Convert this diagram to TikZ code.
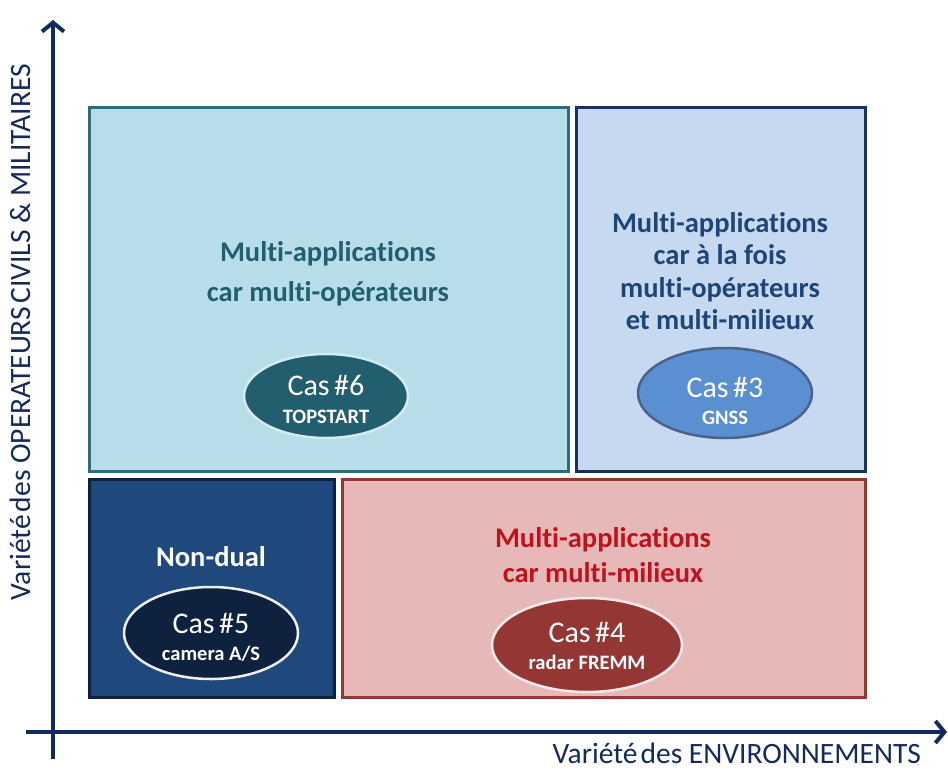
\documentclass[tikz,border=0pt]{standalone}
\usepackage{fontspec}
\setmainfont{Carlito}[Ligatures=NoCommon]
\usetikzlibrary{arrows.meta,shapes.geometric}
\definecolor{axecol}{HTML}{14295C}
\definecolor{tlfill}{HTML}{B7DDE8}
\definecolor{tlline}{HTML}{2F6B79}
\definecolor{tltext}{HTML}{225E6D}
\definecolor{trfill}{HTML}{C6D9F1}
\definecolor{trline}{HTML}{17305E}
\definecolor{trtext}{HTML}{1F4576}
\definecolor{trcas}{HTML}{5A8FD2}
\definecolor{blfill}{HTML}{1F487C}
\definecolor{blline}{HTML}{0E223F}
\definecolor{brfill}{HTML}{E6B9B8}
\definecolor{brline}{HTML}{943634}
\definecolor{brtext}{HTML}{C0121C}
\begin{document}
\begin{tikzpicture}[x=1pt,y=-1pt,
	zone/.style={line width=3pt},
	ovale/.style={ellipse,line width=2.5pt,inner sep=0pt},
	titre/.style={font=\fontsize{28.5}{36}\selectfont\bfseries,align=center},
	cas/.style={font=\fontsize{30}{30}\selectfont,text=white,anchor=base},
	sous/.style={font=\fontsize{20.5}{22}\selectfont\bfseries,text=white,anchor=base},
	axe/.style={draw=axecol,line width=4pt,-{Straight Barb[length=9pt,width=22pt]}},
	legende/.style={font=\fontsize{29.5}{32}\selectfont,text=axecol,inner sep=0pt}]
	\useasboundingbox (0,0) rectangle (948,769);
	\fill[white] (0,0) rectangle (948,769);
	% les quatre zones
	\draw[zone,fill=tlfill,draw=tlline] (89,107) rectangle (568,471);
	\draw[zone,fill=trfill,draw=trline] (576,107) rectangle (865,471);
	\draw[zone,fill=blfill,draw=blline] (89,479) rectangle (334,697);
	\draw[zone,fill=brfill,draw=brline] (342,479) rectangle (865,697);
	% titres
	\node[titre,text=tltext,font=\fontsize{28.5}{40}\selectfont\bfseries] (titre6) at (328,274) {Multi-applications\\car multi-opérateurs};
	\node[titre,text=trtext,font=\fontsize{28.5}{32.5}\selectfont\bfseries] (titre3) at (720,271) {Multi-applications\\car à la fois\\multi-opérateurs\\et multi-milieux};
	\node[titre,text=white] (titre5) at (211,557) {Non-dual};
	\node[titre,text=brtext,font=\fontsize{28.5}{35}\selectfont\bfseries] (titre4) at (603,555) {Multi-applications\\car multi-milieux};
	% les cas
	\node[ovale,fill=tltext,draw=tlfill!60!white,minimum width=164pt,minimum height=84pt] (cas6) at (326,396) {};
	\node[cas] (cas6a) at (326,395) {Cas\hspace{0.15em}\#6};
	\node[sous] (cas6b) at (326,423) {TOPSTART};
	\node[ovale,fill=trcas,draw=trline!70!trfill,minimum width=174pt,minimum height=90pt] (cas3) at (725,393) {};
	\node[cas] (cas3a) at (725,397) {Cas\hspace{0.15em}\#3};
	\node[sous] (cas3b) at (725,424) {GNSS};
	\node[ovale,fill=blline,draw=white!93!black,minimum width=174pt,minimum height=92pt] (cas5) at (211,633) {};
	\node[cas] (cas5a) at (211,633) {Cas\hspace{0.15em}\#5};
	\node[sous] (cas5b) at (211,660) {camera A/S};
	\node[ovale,fill=brline,draw=brfill!30!white,minimum width=190pt,minimum height=94pt] (cas4) at (587,645) {};
	\node[cas] (cas4a) at (587,642) {Cas\hspace{0.15em}\#4};
	\node[sous] (cas4b) at (587,669) {radar FREMM};
	% axes
	\coordinate (oy) at (53,759);
	\coordinate (ty) at (53,20);
	\coordinate (ox) at (26,732);
	\coordinate (tx) at (947,732);
	\draw[axe] (oy) -- (ty);
	\draw[axe] (ox) -- (tx);
	\node[legende,rotate=90] (axey) at (20,332) {Variété\hspace{0.1em}des OPERATEURS\hspace{0.12em}CIVILS \& MILITAIRES};
	\node[legende,anchor=east] (axex) at (921,753) {Variété\hspace{0.1em}des ENVIRONNEMENTS};
\end{tikzpicture}
\end{document}
